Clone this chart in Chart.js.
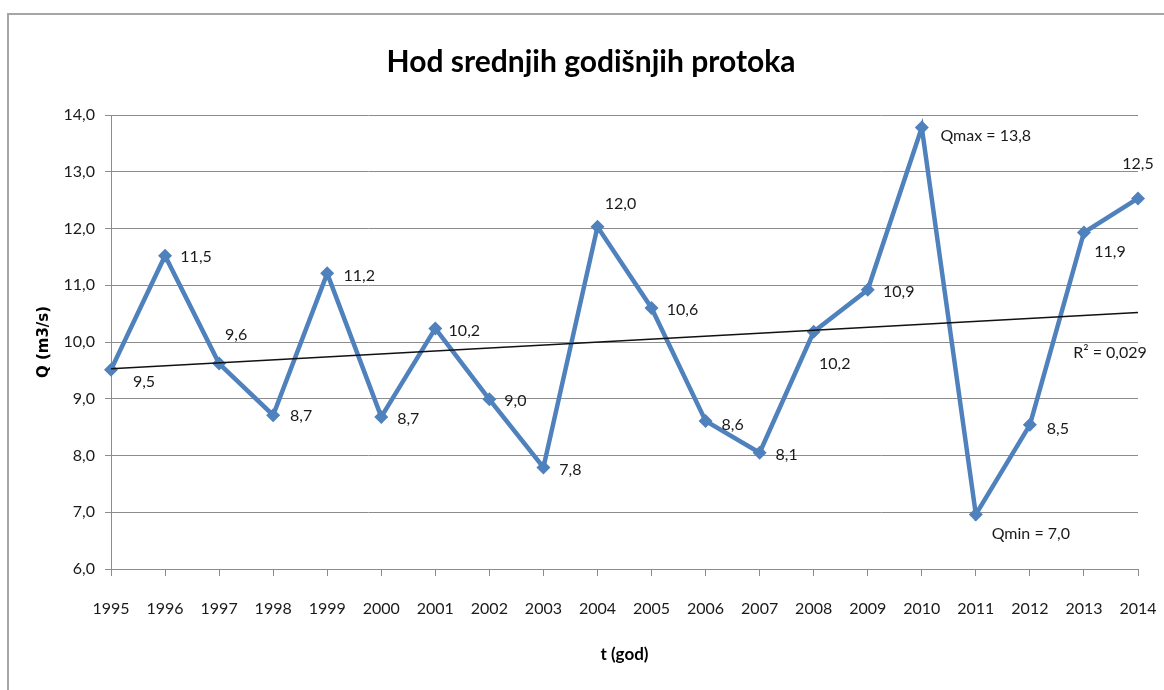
<!DOCTYPE html>
<html>
<head>
<meta charset="utf-8">
<title>Hod srednjih godišnjih protoka</title>
<script src="https://cdn.jsdelivr.net/npm/chart.js@4.4.1/dist/chart.umd.min.js"></script>
<style>
  html, body { margin: 0; padding: 0; background: #fff; }
  #wrap { width: 1164px; height: 690px; }
</style>
</head>
<body>
<div id="wrap"><canvas id="chart" width="1164" height="690"></canvas></div>
<script>
// ===============================
// DATOS
// ===============================
const years = ["1995", "1996", "1997", "1998", "1999", "2000", "2001", "2002", "2003", "2004",
  "2005", "2006", "2007", "2008", "2009", "2010", "2011", "2012", "2013", "2014"];

const flows = [9.51, 11.52, 9.62, 8.71, 11.21, 8.68, 10.24, 8.99, 7.79, 12.03,
  10.6, 8.61, 8.05, 10.18, 10.92, 13.78, 6.96, 8.54, 11.93, 12.53];

const pointLabels = ["9,5", "11,5", "9,6", "8,7", "11,2", "8,7", "10,2", "9,0", "7,8", "12,0",
  "10,6", "8,6", "8,1", "10,2", "10,9", "Qmax = 13,8", "Qmin = 7,0", "8,5", "11,9", "12,5"];

// linear trend, only the ends are drawn
const trendStart = 9.53;
const trendEnd = 10.52;
const trendLabel = "R² = 0,029";

const chartTitle = "Hod srednjih godišnjih protoka";

const yTicksMin = 6;
const yTicksMax = 14;

// ===============================
// ESTILO
// ===============================
const FONT = 'Lato, "Open Sans", sans-serif';
const TEXT = "#1a1a1a";
const GRID = "#8c8c8c";
const BLUE = "#4f81bd";

// label offsets from the marker (px)
const labelOffsets = [
  [33, 12], [31, 1], [17, -29], [28, 1], [32, 3], [27, 2], [29, 2], [26, 2], [27, 2], [23, -23],
  [31, 2], [27, 4], [27, 2], [21, 32], [31, 2], [64, 8], [55, 19], [28, 4], [26, 19], [0, -35]
];

const trendData = years.map((y, i) => i === 0 ? trendStart : (i === years.length - 1 ? trendEnd : null));

// ===============================
// PLUGINS
// ===============================
const frame = {
  id: "frame",
  beforeDraw(chart) {
    const ctx = chart.ctx;
    ctx.save();
    ctx.fillStyle = "#fff";
    ctx.fillRect(0, 0, chart.width, chart.height);
    ctx.strokeStyle = "#a6a6a6";
    ctx.lineWidth = 2;
    ctx.strokeRect(8, 14, chart.width + 20, chart.height + 20);
    ctx.restore();
  },
  afterDraw(chart) {
    // title sits a bit right of the canvas centre, like the original
    const ctx = chart.ctx;
    ctx.save();
    ctx.font = "bold 30px " + FONT;
    ctx.fillStyle = "#000";
    ctx.textAlign = "center";
    ctx.textBaseline = "alphabetic";
    ctx.fillText(chartTitle, 591, 72);
    ctx.restore();
  }
};

const valueLabels = {
  id: "valueLabels",
  afterDatasetsDraw(chart) {
    const ctx = chart.ctx;
    const meta = chart.getDatasetMeta(0);
    ctx.save();
    ctx.font = "16px " + FONT;
    ctx.fillStyle = TEXT;
    ctx.textAlign = "center";
    ctx.textBaseline = "middle";
    meta.data.forEach((pt, i) => {
      const off = labelOffsets[i];
      ctx.fillText(pointLabels[i], pt.x + off[0], pt.y + off[1]);
    });
    // R² next to the end of the trend line
    const tMeta = chart.getDatasetMeta(1);
    const last = tMeta.data[tMeta.data.length - 1];
    ctx.fillText(trendLabel, last.x - 28, last.y + 40);
    ctx.restore();
  }
};

// ===============================
// GRÁFICO
// ===============================
new Chart(document.getElementById("chart"), {
  type: "line",
  data: {
    labels: years,
    datasets: [
      {
        data: flows,
        borderColor: BLUE,
        backgroundColor: BLUE,
        borderWidth: 4.5,
        pointStyle: "rectRot",
        pointRadius: 7,
        pointBackgroundColor: BLUE,
        pointBorderColor: BLUE,
        pointBorderWidth: 0,
        tension: 0,
        order: 1
      },
      {
        data: trendData,
        borderColor: "#111",
        borderWidth: 1.5,
        pointRadius: 0,
        spanGaps: true,
        tension: 0,
        order: 0
      }
    ]
  },
  options: {
    responsive: false,
    animation: false,
    layout: { padding: { left: 0, right: 26, top: 115, bottom: 0 } },
    plugins: {
      legend: { display: false },
      tooltip: { enabled: false },
      title: { display: false }
    },
    scales: {
      x: {
        type: "category",
        offset: false,
        grid: {
          display: true,
          drawOnChartArea: false,
          color: GRID,
          tickLength: 7
        },
        border: { color: GRID, width: 1 },
        ticks: {
          color: TEXT,
          font: { family: FONT, size: 16 },
          padding: 23,
          maxRotation: 0,
          autoSkip: false
        },
        title: {
          display: true,
          text: "t (god)",
          color: "#000",
          font: { family: FONT, size: 17, weight: "bold" },
          padding: { top: 0, bottom: 25 }
        },
        afterFit(scale) {
          scale.height = 121;
          scale.paddingLeft = 0;
          scale.paddingRight = 0;
        }
      },
      y: {
        min: yTicksMin,
        max: yTicksMax,
        grid: { color: GRID, tickLength: 6 },
        border: { color: GRID, width: 1 },
        ticks: {
          stepSize: 1,
          color: TEXT,
          font: { family: FONT, size: 16 },
          padding: 10,
          callback: v => v.toFixed(1).replace(".", ",")
        },
        title: {
          display: true,
          text: "Q (m3/s)",
          color: "#000",
          font: { family: '"DejaVu Sans", sans-serif', size: 15, weight: "bold" },
          padding: { top: 35, bottom: 0 }
        },
        afterFit(scale) {
          scale.width = 111;
          scale.paddingTop = 0;
          scale.paddingBottom = 0;
        }
      }
    }
  },
  plugins: [frame, valueLabels]
});
</script>
</body>
</html>
